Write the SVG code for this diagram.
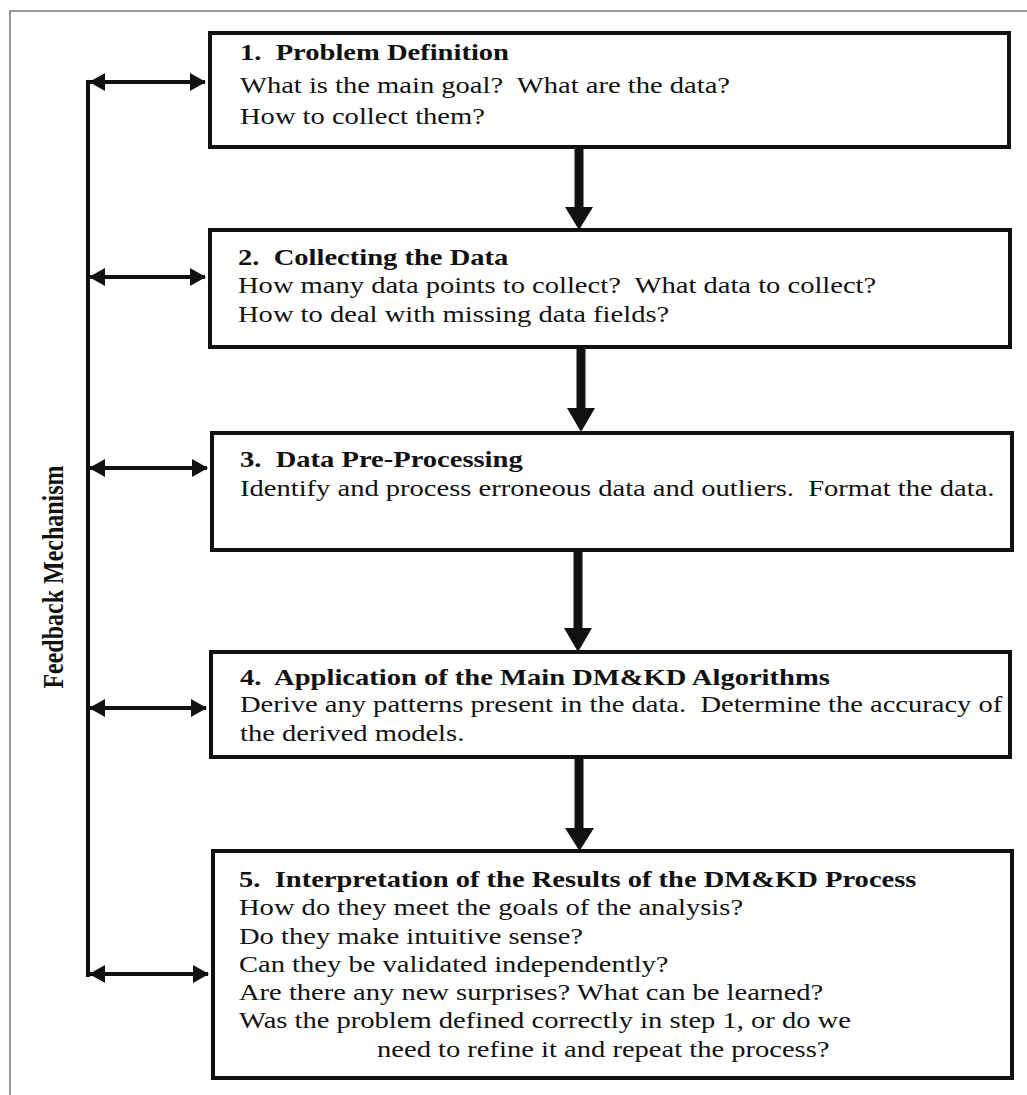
<svg xmlns="http://www.w3.org/2000/svg" width="1027" height="1095" viewBox="0 0 1027 1095">
  <defs>
    <style>
      .frame { fill: none; stroke: #777; stroke-width: 1.5; }
      .box { fill: #fff; stroke: #111; stroke-width: 4; }
      .t { font-family: "Liberation Serif", "Times New Roman", serif; font-size: 24px; fill: #111; white-space: pre; }
      .b { font-weight: bold; }
      .link { stroke: #111; stroke-width: 4; fill: none; }
      .shaft { fill: #111; }
      .head { fill: #111; }
    </style>
    <marker id="tip" viewBox="0 0 16 18" refX="15" refY="9" markerWidth="16" markerHeight="18" markerUnits="userSpaceOnUse" orient="auto-start-reverse">
      <path d="M0,0 L16,9 L0,18 Z" fill="#111"/>
    </marker>
  </defs>

  <rect width="1027" height="1095" fill="#fff"/>
  <!-- outer frame, running off the right and bottom edges -->
  <rect class="frame" x="10" y="11" width="1030" height="1100"/>

  <!-- feedback label -->
  <text class="t b" transform="translate(63 577) rotate(-90) scale(1 1.19)" text-anchor="middle" font-size="27">Feedback Mechanism</text>

  <g id="connectors">
    <!-- feedback spine -->
    <line class="link" x1="88" y1="80" x2="88" y2="977"/>
    <!-- two-way links from spine to each step -->
    <line class="link" x1="90" y1="82" x2="205" y2="82" marker-start="url(#tip)" marker-end="url(#tip)"/>
    <line class="link" x1="90" y1="277" x2="205" y2="277" marker-start="url(#tip)" marker-end="url(#tip)"/>
    <line class="link" x1="90" y1="468" x2="207" y2="468" marker-start="url(#tip)" marker-end="url(#tip)"/>
    <line class="link" x1="90" y1="708" x2="206" y2="708" marker-start="url(#tip)" marker-end="url(#tip)"/>
    <line class="link" x1="90" y1="974" x2="208" y2="974" marker-start="url(#tip)" marker-end="url(#tip)"/>
    <!-- flow arrows between steps -->
    <rect class="shaft" x="574.5" y="147" width="9" height="61"/>
    <path class="head" d="M565,207 L593,207 L579,230 Z"/>
    <rect class="shaft" x="576.5" y="347" width="9" height="62"/>
    <path class="head" d="M567,408 L595,408 L581,432 Z"/>
    <rect class="shaft" x="573.5" y="550" width="9" height="79"/>
    <path class="head" d="M564,628 L592,628 L578,652 Z"/>
    <rect class="shaft" x="574.5" y="757" width="9" height="72"/>
    <path class="head" d="M565,828 L594,828 L579.5,851 Z"/>
  </g>

  <g id="step1">
    <rect class="box" x="210" y="33" width="799" height="114"/>
    <g transform="translate(240 0) scale(1.19 1)">
      <text class="t b" x="0" y="60" xml:space="preserve">1.  Problem Definition</text>
      <text class="t" x="0" y="93" xml:space="preserve">What is the main goal?  What are the data?</text>
      <text class="t" x="0" y="124">How to collect them?</text>
    </g>
  </g>

  <g id="step2">
    <rect class="box" x="210" y="230" width="800" height="117"/>
    <g transform="translate(238 0) scale(1.19 1)">
      <text class="t b" x="0" y="265" xml:space="preserve">2.  Collecting the Data</text>
      <text class="t" x="0" y="293" xml:space="preserve">How many data points to collect?  What data to collect?</text>
      <text class="t" x="0" y="322">How to deal with missing data fields?</text>
    </g>
  </g>

  <g id="step3">
    <rect class="box" x="212" y="433" width="800" height="117"/>
    <g transform="translate(240 0) scale(1.19 1)">
      <text class="t b" x="0" y="467" xml:space="preserve">3.  Data Pre-Processing</text>
      <text class="t" x="0" y="496" xml:space="preserve">Identify and process erroneous data and outliers.  Format the data.</text>
    </g>
  </g>

  <g id="step4">
    <rect class="box" x="211" y="652" width="799" height="105"/>
    <g transform="translate(240 0) scale(1.19 1)">
      <text class="t b" x="0" y="685" xml:space="preserve">4.  Application of the Main DM&amp;KD Algorithms</text>
      <text class="t" x="0" y="712" xml:space="preserve">Derive any patterns present in the data.  Determine the accuracy of</text>
      <text class="t" x="0" y="741">the derived models.</text>
    </g>
  </g>

  <g id="step5">
    <rect class="box" x="213" y="851" width="799" height="227"/>
    <g transform="translate(239 0) scale(1.19 1)">
      <text class="t b" x="0" y="887" xml:space="preserve">5.  Interpretation of the Results of the DM&amp;KD Process</text>
      <text class="t" x="0" y="915">How do they meet the goals of the analysis?</text>
      <text class="t" x="0" y="944">Do they make intuitive sense?</text>
      <text class="t" x="0" y="972">Can they be validated independently?</text>
      <text class="t" x="0" y="1000">Are there any new surprises? What can be learned?</text>
      <text class="t" x="0" y="1028">Was the problem defined correctly in step 1, or do we</text>
      <text class="t" x="116" y="1057">need to refine it and repeat the process?</text>
    </g>
  </g>
</svg>
